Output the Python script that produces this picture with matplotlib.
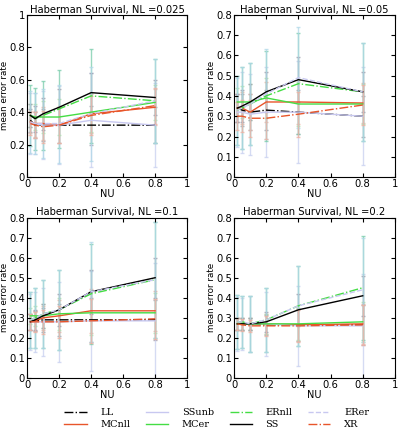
import numpy as np
import matplotlib
matplotlib.use('Agg')
import matplotlib.pyplot as plt

nu = [0.02, 0.05, 0.1, 0.2, 0.4, 0.8]
titles = ['Haberman Survival, NL =0.025', 'Haberman Survival, NL =0.05',
          'Haberman Survival, NL =0.1', 'Haberman Survival, NL =0.2']
ymax = [1.0, 0.8, 0.8, 0.8]

# mean error rates per panel
LL = [[0.35, 0.32, 0.32, 0.32, 0.32, 0.32],
      [0.34, 0.33, 0.32, 0.33, 0.32, 0.30],
      [0.28, 0.285, 0.29, 0.29, 0.29, 0.29],
      [0.27, 0.27, 0.27, 0.265, 0.265, 0.265]]
MCnll = [[0.34, 0.33, 0.33, 0.32, 0.39, 0.43],
         [0.34, 0.34, 0.32, 0.37, 0.37, 0.365],
         [0.28, 0.285, 0.30, 0.31, 0.335, 0.335],
         [0.27, 0.27, 0.27, 0.27, 0.265, 0.27]]
SSunb = [[0.33, 0.33, 0.32, 0.32, 0.35, 0.32],
         [0.32, 0.32, 0.31, 0.32, 0.32, 0.30],
         [0.28, 0.28, 0.28, 0.28, 0.285, 0.285],
         [0.27, 0.27, 0.27, 0.27, 0.26, 0.26]]
MCer = [[0.38, 0.37, 0.37, 0.37, 0.40, 0.46],
        [0.37, 0.37, 0.37, 0.39, 0.36, 0.36],
        [0.31, 0.31, 0.31, 0.32, 0.325, 0.325],
        [0.27, 0.27, 0.27, 0.27, 0.27, 0.28]]
ERnll = [[0.38, 0.36, 0.38, 0.42, 0.50, 0.47],
         [0.33, 0.34, 0.36, 0.40, 0.46, 0.42],
         [0.29, 0.30, 0.32, 0.34, 0.42, 0.49],
         [0.28, 0.28, 0.27, 0.29, 0.36, 0.45]]
SS = [[0.38, 0.36, 0.39, 0.43, 0.52, 0.49],
      [0.34, 0.35, 0.37, 0.42, 0.48, 0.42],
      [0.28, 0.29, 0.31, 0.34, 0.43, 0.50],
      [0.27, 0.27, 0.27, 0.28, 0.34, 0.41]]
ERer = [[0.34, 0.33, 0.33, 0.33, 0.39, 0.47],
        [0.33, 0.34, 0.36, 0.41, 0.49, 0.42],
        [0.29, 0.30, 0.32, 0.34, 0.43, 0.49],
        [0.28, 0.28, 0.27, 0.29, 0.36, 0.44]]
XR = [[0.33, 0.32, 0.31, 0.32, 0.38, 0.44],
      [0.30, 0.30, 0.29, 0.29, 0.31, 0.355],
      [0.28, 0.28, 0.28, 0.28, 0.285, 0.295],
      [0.27, 0.265, 0.26, 0.26, 0.26, 0.265]]

# standard deviations (wide: ER / SSunb runs, narrow: the rest)
err_wide = [[0.19, 0.19, 0.21, 0.24, 0.29, 0.26],
            [0.17, 0.20, 0.20, 0.22, 0.25, 0.24],
            [0.14, 0.15, 0.17, 0.20, 0.25, 0.29],
            [0.135, 0.13, 0.14, 0.16, 0.20, 0.26]]
err_narrow = [[0.07, 0.08, 0.10, 0.11, 0.12, 0.11],
              [0.07, 0.08, 0.09, 0.10, 0.11, 0.10],
              [0.04, 0.05, 0.06, 0.08, 0.11, 0.10],
              [0.03, 0.03, 0.03, 0.05, 0.08, 0.10]]

series = [('LL', LL, 'k', '-.', 'narrow', '#9a9aaa'),
          ('MCnll', MCnll, '#e8552a', '-', 'narrow', '#f0b0a0'),
          ('SSunb', SSunb, '#c8c8f0', '-', 'wide', '#c8d0f0'),
          ('MCer', MCer, '#44dd44', '-', 'narrow', '#b0e8b0'),
          ('ERnll', ERnll, '#44dd44', '-.', 'wide', '#77ccaa'),
          ('SS', SS, 'k', '-', 'narrow', '#9a9aaa'),
          ('ERer', ERer, '#c8c8f0', '--', 'wide', '#b0d8e8'),
          ('XR', XR, '#e8552a', '-.', 'narrow', '#f0b0a0')]

fig = plt.figure(figsize=(4.05, 4.3), dpi=100)
pos = [[0.067, 0.588, 0.395, 0.378],
       [0.578, 0.588, 0.397, 0.378],
       [0.067, 0.121, 0.395, 0.373],
       [0.578, 0.121, 0.397, 0.373]]

handles = []
for p in range(4):
    ax = fig.add_axes(pos[p])
    for name, data, col, ls, ek, ecol in series:
        err = err_wide[p] if ek == 'wide' else err_narrow[p]
        ax.errorbar(nu, data[p], yerr=err, fmt='none', ecolor=ecol,
                    elinewidth=1.0, capsize=1.5, alpha=0.75, zorder=1)
    for name, data, col, ls, ek, ecol in series:
        l, = ax.plot(nu, data[p], color=col, linestyle=ls, linewidth=1.0,
                     label=name, zorder=3)
        if p == 0:
            handles.append(l)
    ax.set_xlim(0, 1)
    ax.set_ylim(0, ymax[p])
    ax.set_xticks([0, 0.2, 0.4, 0.6, 0.8, 1])
    ax.set_xticklabels(['0', '0.2', '0.4', '0.6', '0.8', '1'])
    if ymax[p] == 1.0:
        ax.set_yticks([0, 0.2, 0.4, 0.6, 0.8, 1])
        ax.set_yticklabels(['0', '0.2', '0.4', '0.6', '0.8', '1'])
    else:
        yt = [0, 0.1, 0.2, 0.3, 0.4, 0.5, 0.6, 0.7, 0.8]
        ax.set_yticks(yt)
        ax.set_yticklabels(['0'] + ['%.1f' % v for v in yt[1:]])
    ax.tick_params(direction='in', top=True, right=True, labelsize=7.2,
                   length=3, pad=1.5)
    ax.set_title(titles[p], fontsize=7.2, pad=1.5)
    ax.set_xlabel('NU', fontsize=7, labelpad=0)
    ax.set_ylabel('mean error rate', fontsize=6.3, labelpad=0)

fig.legend(handles=handles, labels=[s[0] for s in series], loc='lower center',
           bbox_to_anchor=(0.535, -0.018), ncol=4, frameon=False,
           prop={'family': 'DejaVu Serif', 'size': 7}, handlelength=2.3,
           columnspacing=1.6, labelspacing=0.3, handletextpad=1.4)

fig.savefig('out.png', dpi=100)
